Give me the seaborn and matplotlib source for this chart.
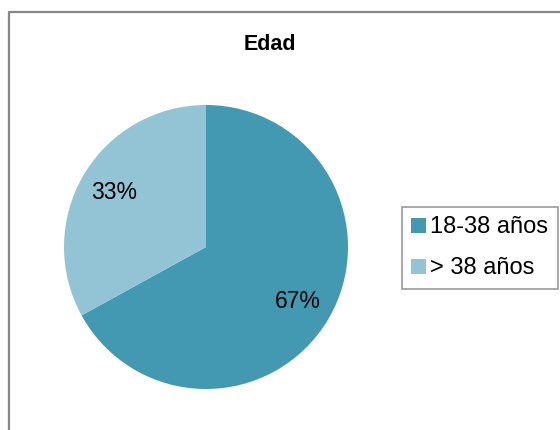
import matplotlib
matplotlib.use("Agg")
import matplotlib.pyplot as plt
import seaborn as sns
from matplotlib.patches import Patch
from matplotlib.lines import Line2D

categories = ["18-38 años", "> 38 años"]
values = [67, 33]
colors = ["#4399B1", "#93C4D6"]
title = "Edad"

sns.set_theme(style="white")
plt.rcParams['font.family'] = ['Liberation Sans', 'DejaVu Sans']

W, H = 560, 430
fig = plt.figure(figsize=(W / 100, H / 100), dpi=100)
fig.patch.set_facecolor("white")

cx, cy, r = 206, 247, 142
ax = fig.add_axes([(cx - r) / W, 1 - (cy + r) / H, 2 * r / W, 2 * r / H])
wedges, texts, autotexts = ax.pie(
    values, colors=colors, startangle=90, counterclock=False,
    autopct=lambda p: f"{p:.0f}%", pctdistance=0.75, radius=1,
    textprops=dict(fontsize=16.5, color="black"),
    wedgeprops=dict(linewidth=0),
)
ax.set_xlim(-1, 1)
ax.set_ylim(-1, 1)
ax.set_aspect("auto")
ax.axis("off")

fig.text(270 / W, 1 - 44 / H, title, ha="center", va="center",
         fontsize=15.5, fontweight="bold", color="black")

handles = [Patch(facecolor=c, edgecolor="none") for c in colors]
leg = fig.legend(handles, categories, loc="upper left",
                 bbox_to_anchor=(402 / W, 1 - 207 / H), fontsize=17,
                 frameon=True, fancybox=False, edgecolor="#808080",
                 borderaxespad=0, handlelength=0.6, handleheight=0.6,
                 handletextpad=0.2, labelspacing=0.8, borderpad=0.4)
leg.get_frame().set_linewidth(1.2)
for t in leg.get_texts():
    t.set_color("black")

# outer chart frame (cut off at right and bottom)
fig.add_artist(Line2D([8.5 / W, 8.5 / W], [0, 1 - 12 / H], color="#888888",
                      linewidth=1.6, transform=fig.transFigure))
fig.add_artist(Line2D([8.5 / W, 1], [1 - 12 / H, 1 - 12 / H], color="#888888",
                      linewidth=1.6, transform=fig.transFigure))

fig.savefig("out.png", dpi=100)
